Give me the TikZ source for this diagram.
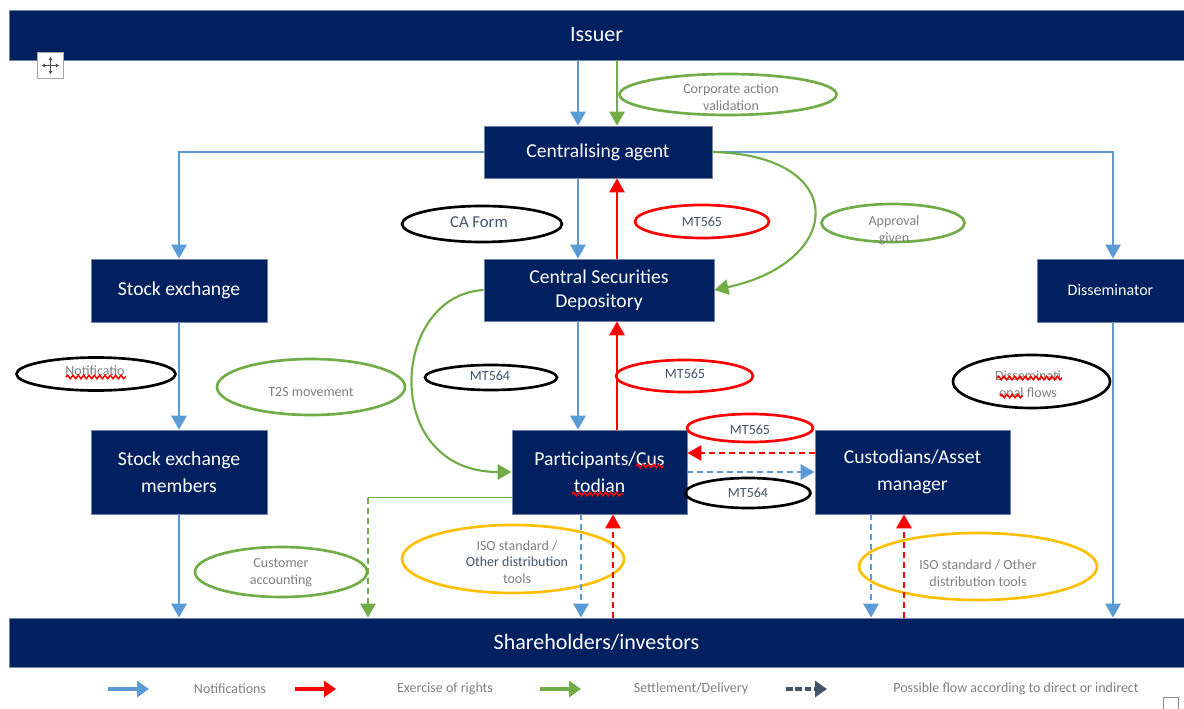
\documentclass[tikz,border=0pt]{standalone}
\usepackage{fontspec}
\setmainfont{Carlito}
\usetikzlibrary{arrows.meta,shapes.geometric,decorations.pathmorphing}
\definecolor{navy}{RGB}{0,32,96}
\definecolor{nblue}{RGB}{91,155,213}
\definecolor{ngreen}{RGB}{112,173,71}
\definecolor{nred}{RGB}{255,0,0}
\definecolor{nyellow}{RGB}{255,192,0}
\definecolor{txtgray}{RGB}{128,128,128}
\definecolor{slate}{RGB}{68,84,106}
\begin{document}
\begin{tikzpicture}[x=0.75pt,y=-0.75pt,
  box/.style={fill=navy, draw=navy!55!white, line width=0.6pt, text=white, inner sep=0pt, align=center, font=\fontsize{14.75}{20}\selectfont},
  bar/.style={box, minimum width=881.25pt, font=\fontsize{16.5}{20}\selectfont},
  oval/.style={ellipse, draw=#1, line width=2pt, inner sep=0pt},
  otext/.style={text=txtgray, align=center, inner sep=0pt, font=\fontsize{10.5}{12.5}\selectfont},
  mtext/.style={otext, text=slate},
  tip/.style={-{Triangle[width=11.5pt,length=10.5pt]}},
  bl/.style={draw=nblue, line width=1.6pt, tip},
  blthin/.style={draw=nblue, line width=1.1pt, tip},
  rl/.style={draw=nred, line width=1.6pt, tip},
  gl/.style={draw=ngreen, line width=1.6pt, tip},
  dsh/.style={dash pattern=on 4.5pt off 3pt},
  squig/.style={draw=nred, line width=1.1pt, decorate, decoration={snake, amplitude=1.3pt, segment length=4pt}},
  legt/.style={text=txtgray, inner sep=0pt, font=\fontsize{10.5}{12}\selectfont}
]
\useasboundingbox (0,0) rectangle (1184,709);
\fill[white] (0,0) rectangle (1184,709);

% column / row coordinates
\coordinate (xb) at (578,0);
\coordinate (xr) at (617,0);
\coordinate (xd) at (1113,0);
\coordinate (xgd) at (368,0);
\coordinate (xpb) at (581,0);
\coordinate (xpr) at (613,0);
\coordinate (xcb) at (871,0);
\coordinate (xcr) at (904,0);
\coordinate (yr) at (0,453);
\coordinate (yb) at (0,472);
\coordinate (yg) at (0,497.5);

% bars and boxes
\node[bar, minimum height=37.5pt] (issuer) at (596.5,35) {Issuer};
\node[bar, minimum height=36.75pt] (sh) at (596.5,642.5) {Shareholders/investors};
\node[box, minimum width=171pt, minimum height=39pt] (ca) at (598,152) {Centralising agent};
\node[box, minimum width=132pt, minimum height=47.25pt] (se) at (179,290.5) {Stock exchange};
\node[box, minimum width=172.5pt, minimum height=46.5pt, font=\fontsize{14.75}{18}\selectfont] (csd) at (599,290) {Central Securities\\Depository};
\node[box, minimum width=110.25pt, minimum height=47.25pt, font=\fontsize{12}{14}\selectfont] (dis) at (1110.5,290.5) {Disseminator};
\node[box, minimum width=132pt, minimum height=63pt] (sem) at (179,472) {Stock exchange\\members};
\node[box, minimum width=131.25pt, minimum height=63pt] (pc) at (599.5,472) {Participants/Cus\\todian};
\node[box, minimum width=146.25pt, minimum height=63pt] (cam) at (912.5,472) {Custodians/Asset\\manager};

% ellipses
\node[oval=ngreen, minimum width=162.75pt, minimum height=30.75pt] (cav) at (728,94.5) {};
\node[otext] (cavt) at (731,97) {Corporate action\\validation};
\node[oval=black, minimum width=120pt, minimum height=27pt] (caf) at (482,224) {};
\node[mtext, font=\fontsize{12.5}{14}\selectfont] (caft) at (479,222) {CA Form};
\node[oval=nred, minimum width=100.5pt, minimum height=24.75pt] (mta) at (702,221.5) {};
\node[mtext] (mtat) at (702,222) {MT565};
\node[oval=ngreen, minimum width=107.25pt, minimum height=28.5pt] (app) at (893,223) {};
\node[otext] (appt) at (894,230.5) {Approval\\given};
\node[oval=black, minimum width=119.25pt, minimum height=24.75pt] (notif) at (96,374) {};
\node[otext] (notift) at (95,371) {Notificatio};
\node[oval=ngreen, minimum width=141pt, minimum height=42pt] (t2s) at (311,387) {};
\node[otext] (t2st) at (311,392) {T2S movement};
\node[oval=black, minimum width=99pt, minimum height=18.75pt] (mt4a) at (491,377.5) {};
\node[mtext] (mt4at) at (490,376) {MT564};
\node[oval=nred, minimum width=102.75pt, minimum height=24pt] (mt5b) at (684.5,376) {};
\node[mtext] (mt5bt) at (685,374) {MT565};
\node[oval=black, minimum width=117.75pt, minimum height=39.75pt] (diss) at (1031.5,381.5) {};
\node[otext] (disst) at (1028,384) {Disseminati\\onal flows};
\node[oval=nred, minimum width=94.5pt, minimum height=21pt] (mt5c) at (750,428) {};
\node[mtext] (mt5ct) at (750,430) {MT565};
\node[oval=black, minimum width=93.75pt, minimum height=22.5pt] (mt4b) at (748,493) {};
\node[mtext] (mt4bt) at (748,493) {MT564};
\node[oval=ngreen, minimum width=129pt, minimum height=37.5pt] (cust) at (281,572) {};
\node[otext] (custt) at (281,572.5) {Customer\\accounting};
\node[oval=nyellow, minimum width=166.5pt, minimum height=51pt] (iso1) at (513,559) {};
\node[otext] (iso1t) at (517,562) {ISO standard /\\\textcolor{slate}{Other distribution}\\tools};
\node[oval=nyellow, minimum width=178.5pt, minimum height=50.25pt] (iso2) at (978,566.5) {};
\node[otext] (iso2t) at (978,573) {ISO standard / Other\\distribution tools};

% spell-check squiggles
\draw[squig] (66,377) -- (126,377);
\draw[squig] (636,466) -- (664,466);
\draw[squig] (572,494) -- (623,494);
\draw[squig] (997,378) -- (1062,378);
\draw[squig] (1000,396) -- (1023,396);

% notifications (blue)
\draw[bl] (issuer.south -| xb) -- (ca.north -| xb);
\draw[bl] (ca.south -| xb) -- (csd.north -| xb);
\draw[bl] (csd.south -| xb) -- (pc.north -| xb);
\draw[blthin] (ca.west) -| (se.north);
\draw[blthin] (ca.east) -| (dis.north -| xd);
\draw[bl] (dis.south -| xd) -- (sh.north -| xd);
\draw[bl] (se.south) -- (sem.north);
\draw[bl] (sem.south) -- (sh.north -| sem.south);

% exercise of rights (red)
\draw[rl] (csd.north -| xr) -- (ca.south -| xr);
\draw[rl] (pc.north -| xr) -- (csd.south -| xr);

% settlement (green)
\draw[gl] (issuer.south -| xr) -- (ca.north -| xr);
\draw[gl] (ca.east) .. controls (850,155) and (845,262) .. (csd.east);
\draw[gl] (csd.west) .. controls (390,295) and (380,472) .. (pc.west);
\draw[ngreen, line width=1.2pt] (pc.west |- yg) -- (yg -| xgd);
\draw[gl, dsh] (yg -| xgd) -- (sh.north -| xgd);

% dashed possible flows
\draw[rl, dsh] (cam.west |- yr) -- (pc.east |- yr);
\draw[bl, dsh] (pc.east |- yb) -- (cam.west |- yb);
\draw[bl, dsh, line width=1.4pt] (pc.south -| xpb) -- (sh.north -| xpb);
\draw[rl, dsh] (sh.north -| xpr) -- (pc.south -| xpr);
\draw[bl, dsh, line width=1.4pt] (cam.south -| xcb) -- (sh.north -| xcb);
\draw[rl, dsh] (sh.north -| xcr) -- (cam.south -| xcr);

% move handle icon
\node[draw=black!35, fill=white, line width=0.8pt, minimum size=20pt, inner sep=0pt] (mv) at (50.5,65.5) {};
\draw[black!70, line width=0.8pt, {Stealth[length=2.5pt,width=3pt]}-{Stealth[length=2.5pt,width=3pt]}] (mv.center) ++(-8.5,0) -- ++(17,0);
\draw[black!70, line width=0.8pt, {Stealth[length=2.5pt,width=3pt]}-{Stealth[length=2.5pt,width=3pt]}] (mv.center) ++(0,-8.5) -- ++(0,17);

% legend
\coordinate (la1) at (108,689); \coordinate (la2) at (149,689);
\coordinate (lb1) at (295,689); \coordinate (lb2) at (336,689);
\coordinate (lc1) at (540,689); \coordinate (lc2) at (581,689);
\coordinate (ld1) at (786,689); \coordinate (ld2) at (827,689);
\draw[nblue, line width=3.5pt, -{Triangle[width=12pt,length=9pt]}] (la1) -- (la2);
\draw[nred, line width=3.5pt, -{Triangle[width=12pt,length=9pt]}] (lb1) -- (lb2);
\draw[ngreen, line width=3.5pt, -{Triangle[width=12pt,length=9pt]}] (lc1) -- (lc2);
\draw[slate, line width=3.5pt, dash pattern=on 5pt off 2pt, -{Triangle[width=12pt,length=9pt]}] (ld1) -- (ld2);
\node[legt] (l1) at (230,689) {Notifications};
\node[legt] (l2) at (445,689) {Exercise of rights};
\node[legt] (l3) at (691,689) {Settlement/Delivery};
\node[legt] (l4) at (1016,689) {Possible flow according to direct or indirect};

% small marker bottom right
\node[draw=black!45, line width=0.6pt, minimum width=11.25pt, minimum height=11.25pt, inner sep=0pt, anchor=north west] (mk) at (1163,697) {};
\end{tikzpicture}
\end{document}
